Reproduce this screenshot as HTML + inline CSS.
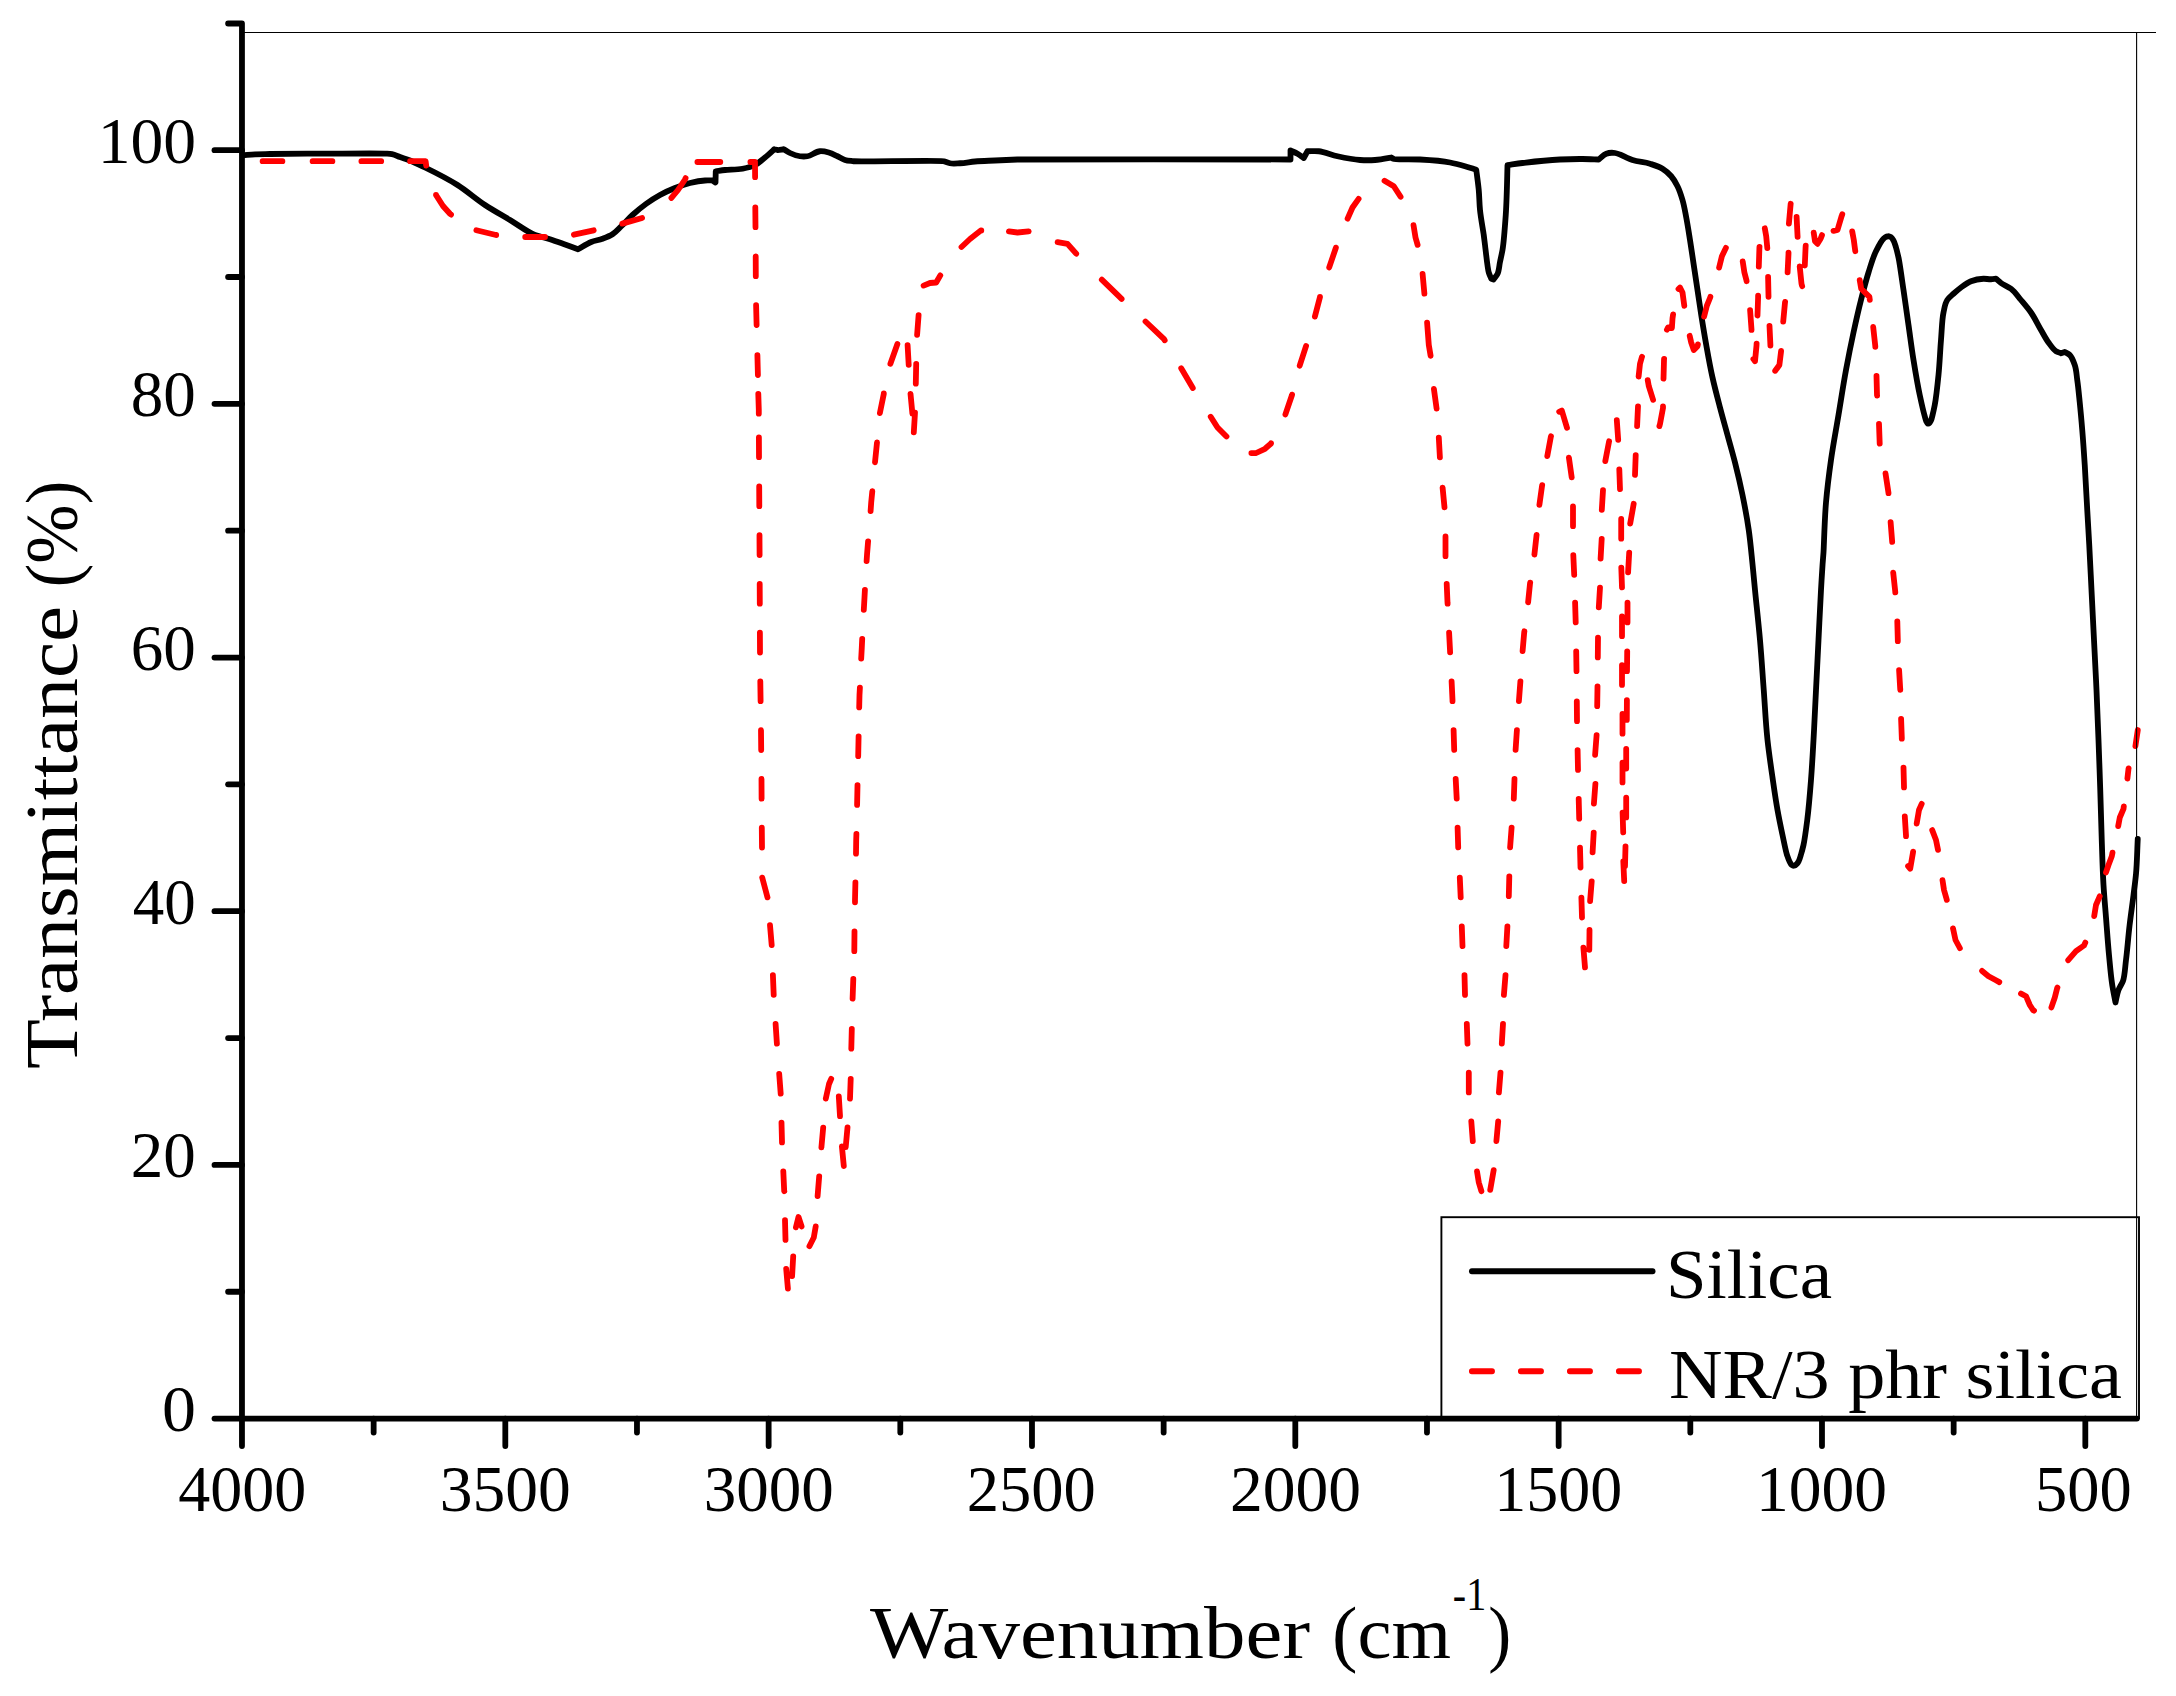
<!DOCTYPE html>
<html lang="en">
<head>
<meta charset="utf-8">
<title>FTIR spectra: Silica and NR/3 phr silica</title>
<style>
html,body{margin:0;padding:0;background:#fff;}
body{width:2176px;height:1696px;overflow:hidden;}
svg{display:block;}
</style>
</head>
<body>
<svg width="2176" height="1696" viewBox="0 0 2176 1696">
<rect x="0" y="0" width="2176" height="1696" fill="#ffffff"/>
<g stroke="#000" stroke-width="1.1" fill="none"><line x1="244" y1="32.45" x2="2156" y2="32.45"/></g>
<path d="M243.00 155.30 C247.00 154.97 250.99 154.52 255.00 154.30 C259.99 154.02 265.00 154.09 270.00 154.00 C277.50 153.87 310.00 153.66 330.00 153.60 C348.33 153.54 381.50 153.33 385.00 153.60 C387.34 153.78 389.70 153.74 392.00 154.20 C394.77 154.76 397.33 156.07 400.00 157.00 C403.33 158.17 406.71 159.20 410.00 160.50 C414.93 162.44 420.04 165.08 425.00 167.50 C432.44 171.13 447.10 178.42 457.50 185.00 C467.08 191.06 475.53 198.78 485.00 205.00 C493.12 210.34 501.67 215.00 510.00 220.00 C518.33 225.00 527.73 232.20 535.00 235.00 C539.85 236.87 545.04 237.68 550.00 239.25 C555.05 240.85 560.01 242.71 565.00 244.50 C569.34 246.06 573.67 247.67 578.00 249.25 C582.42 246.83 586.57 243.85 591.25 242.00 C594.88 240.56 598.84 240.10 602.50 238.75 C605.93 237.48 609.43 236.24 612.50 234.25 C615.82 232.10 618.38 228.97 621.25 226.25 C625.09 222.60 628.58 218.57 632.50 215.00 C636.88 211.01 641.44 207.21 646.25 203.75 C650.66 200.58 655.24 197.61 660.00 195.00 C664.84 192.34 669.87 190.04 675.00 188.00 C679.90 186.06 684.88 184.26 690.00 183.00 C694.92 181.79 701.26 180.70 705.00 180.50 C707.50 180.36 710.70 180.50 712.50 180.50 L715.50 182.50 L715.75 171.25 C718.83 170.83 721.91 170.35 725.00 170.00 C729.64 169.48 736.77 169.90 742.50 168.75 C746.77 167.90 751.12 166.98 755.00 165.00 C758.71 163.11 761.78 160.14 765.00 157.50 C768.20 154.88 773.01 150.36 774.25 149.25 C775.33 149.50 776.39 149.88 777.50 150.00 C779.16 150.18 781.67 149.50 783.75 149.25 C785.83 150.50 787.81 151.95 790.00 153.00 C793.16 154.52 796.52 155.79 800.00 156.25 C802.48 156.58 805.02 156.59 807.50 156.25 C811.22 155.74 815.59 151.53 820.00 151.25 C822.94 151.06 825.91 151.72 828.75 152.50 C831.81 153.34 834.62 154.91 837.50 156.25 C840.03 157.43 842.34 159.16 845.00 160.00 C847.81 160.89 850.83 160.87 853.75 161.25 C858.13 161.82 940.60 160.32 943.75 161.25 C945.85 161.87 947.85 162.84 950.00 163.25 C953.22 163.86 956.67 163.40 960.00 163.25 C964.99 163.02 969.99 161.94 975.00 161.50 C981.65 160.92 988.33 160.82 995.00 160.50 C1002.50 160.14 1010.00 159.81 1017.50 159.50 C1028.75 159.04 1286.00 159.50 1290.50 159.50 L1290.50 150.50 C1292.83 151.58 1295.26 152.48 1297.50 153.75 C1299.69 154.99 1301.67 156.58 1303.75 158.00 L1307.50 151.25 C1311.25 151.25 1315.02 150.89 1318.75 151.25 C1324.35 151.79 1331.18 154.86 1337.50 156.25 C1344.93 157.89 1352.52 159.51 1360.00 160.00 C1364.99 160.33 1370.01 160.36 1375.00 160.00 C1380.47 159.60 1389.81 157.72 1391.25 157.50 C1392.08 158.00 1392.89 158.54 1393.75 159.00 C1395.04 159.69 1411.26 159.01 1420.00 159.50 C1430.03 160.07 1442.42 161.00 1450.00 162.50 C1455.06 163.50 1460.04 164.84 1465.00 166.25 C1468.78 167.32 1472.50 168.58 1476.25 169.75 C1476.97 175.60 1478.12 183.23 1478.75 190.00 C1479.37 196.65 1479.33 203.35 1480.00 210.00 C1480.85 218.38 1483.09 230.00 1483.75 235.00 C1484.19 238.33 1484.57 241.67 1485.00 245.00 C1485.64 250.00 1487.65 269.32 1488.75 272.50 C1489.48 274.62 1490.81 277.65 1491.25 278.75 L1493.50 279.50 C1494.20 278.54 1496.46 276.01 1497.50 274.00 C1499.07 270.98 1499.17 266.00 1500.00 262.00 C1500.83 258.00 1501.78 254.02 1502.50 250.00 C1503.57 243.97 1504.94 226.69 1505.75 215.00 C1506.90 198.36 1507.24 172.56 1507.50 165.00 C1512.50 164.33 1517.49 163.61 1522.50 163.00 C1530.01 162.08 1548.76 160.05 1560.00 159.50 C1567.49 159.13 1575.00 158.94 1582.50 159.00 C1587.92 159.05 1594.03 159.35 1598.75 159.50 C1601.25 157.58 1603.30 154.86 1606.25 153.75 C1608.99 152.72 1612.42 152.61 1615.00 153.00 C1616.72 153.26 1618.35 153.94 1620.00 154.50 C1622.47 155.33 1628.19 158.54 1632.50 160.00 C1638.15 161.91 1644.31 161.94 1650.00 163.75 C1654.28 165.11 1658.69 166.38 1662.50 168.75 C1665.76 170.78 1668.74 173.34 1671.25 176.25 C1673.82 179.23 1675.74 182.74 1677.50 186.25 C1679.69 190.61 1681.12 195.32 1682.50 200.00 C1684.19 205.72 1685.12 211.64 1686.25 217.50 C1687.69 224.97 1688.81 232.49 1690.00 240.00 C1691.32 248.32 1692.50 256.67 1693.75 265.00 C1695.00 273.33 1696.25 281.67 1697.50 290.00 C1698.75 298.33 1699.94 306.68 1701.25 315.00 C1702.83 325.01 1704.46 335.02 1706.25 345.00 C1708.19 355.86 1710.11 366.73 1712.50 377.50 C1714.73 387.56 1717.39 397.53 1720.00 407.50 C1722.41 416.69 1725.00 425.83 1727.50 435.00 C1730.00 444.17 1732.67 453.29 1735.00 462.50 C1737.73 473.28 1740.26 484.11 1742.50 495.00 C1744.88 506.61 1747.07 518.27 1748.75 530.00 C1750.37 541.29 1751.34 552.66 1752.50 564.00 C1753.39 572.66 1754.16 581.33 1755.00 590.00 C1756.27 603.00 1758.54 623.31 1760.00 640.00 C1761.46 656.65 1762.50 673.33 1763.75 690.00 C1765.00 706.67 1765.70 723.38 1767.50 740.00 C1768.86 752.54 1770.70 765.02 1772.50 777.50 C1774.07 788.35 1775.56 799.21 1777.50 810.00 C1779.00 818.36 1780.72 826.69 1782.50 835.00 C1783.93 841.68 1785.87 851.71 1787.00 855.00 C1787.75 857.20 1788.61 859.79 1789.50 861.50 C1790.10 862.64 1790.70 864.15 1791.50 864.80 C1792.03 865.23 1792.70 865.47 1793.30 865.80 C1793.93 865.63 1794.61 865.59 1795.20 865.30 C1795.90 864.96 1796.47 864.37 1797.00 863.80 C1797.76 862.99 1798.28 861.98 1798.80 861.00 C1799.59 859.53 1800.33 856.69 1801.00 854.50 C1801.96 851.37 1802.76 848.19 1803.50 845.00 C1804.61 840.21 1806.18 828.36 1807.25 820.00 C1808.86 807.46 1809.96 793.35 1811.00 780.00 C1812.04 766.68 1812.74 753.34 1813.50 740.00 C1814.45 723.34 1815.17 706.67 1816.00 690.00 C1816.83 673.33 1817.67 656.67 1818.50 640.00 C1819.33 623.33 1820.25 603.00 1821.00 590.00 C1821.50 581.33 1822.18 569.75 1822.60 564.00 C1822.88 560.17 1823.22 556.33 1823.50 552.50 C1823.92 546.75 1824.56 519.13 1826.00 502.50 C1827.23 488.29 1829.00 474.12 1831.00 460.00 C1833.13 444.94 1836.00 430.00 1838.50 415.00 C1841.00 400.00 1843.24 384.95 1846.00 370.00 C1848.32 357.46 1850.80 344.96 1853.50 332.50 C1855.85 321.63 1858.27 310.78 1861.00 300.00 C1863.33 290.79 1865.63 281.56 1868.50 272.50 C1870.77 265.34 1872.75 257.78 1876.00 251.25 C1878.16 246.90 1882.32 239.76 1883.50 238.75 C1884.29 238.08 1885.06 237.34 1886.00 236.90 C1886.78 236.53 1887.67 236.43 1888.50 236.20 C1889.33 236.53 1890.26 236.70 1891.00 237.20 C1892.12 237.95 1892.79 239.32 1893.50 240.50 C1894.56 242.28 1895.26 245.13 1896.00 247.50 C1897.02 250.78 1897.74 254.15 1898.50 257.50 C1899.64 262.53 1901.89 279.16 1903.50 290.00 C1905.23 301.66 1906.83 313.33 1908.50 325.00 C1910.17 336.67 1911.63 348.36 1913.50 360.00 C1915.38 371.70 1917.47 384.33 1919.75 395.00 C1921.27 402.12 1924.01 413.72 1924.75 416.25 C1925.24 417.94 1925.66 420.08 1926.30 421.30 C1926.72 422.11 1927.38 422.96 1927.80 423.60 L1929.30 423.30 C1929.70 422.65 1930.52 421.48 1931.00 420.50 C1931.72 419.03 1932.25 416.18 1932.80 414.00 C1933.55 411.02 1934.16 408.01 1934.75 405.00 C1935.63 400.48 1937.50 385.03 1938.50 375.00 C1939.67 363.36 1940.04 351.66 1941.00 340.00 C1941.76 330.83 1942.03 318.86 1943.50 312.50 C1944.48 308.26 1944.84 303.62 1947.25 300.00 C1948.88 297.55 1951.33 295.74 1953.50 293.75 C1955.90 291.55 1958.38 289.43 1961.00 287.50 C1964.17 285.17 1967.36 282.73 1971.00 281.25 C1974.94 279.65 1979.74 278.87 1983.50 278.75 C1986.00 278.67 1988.50 279.33 1991.00 279.25 C1992.67 279.19 1994.33 278.92 1996.00 278.75 C1997.67 280.17 1999.24 281.70 2001.00 283.00 C2003.64 284.96 2007.97 286.39 2011.00 288.75 C2014.96 291.83 2017.76 296.17 2021.00 300.00 C2024.44 304.08 2027.96 308.11 2031.00 312.50 C2034.83 318.02 2037.59 324.21 2041.00 330.00 C2043.46 334.19 2045.62 338.59 2048.50 342.50 C2050.78 345.59 2053.68 349.88 2056.00 351.25 C2057.55 352.16 2059.33 352.58 2061.00 353.25 L2064.75 352.00 C2066.42 353.00 2068.30 353.70 2069.75 355.00 C2071.92 356.95 2073.52 361.48 2074.75 365.00 C2076.43 369.78 2076.53 374.98 2077.25 380.00 C2078.33 387.47 2078.98 394.99 2079.75 402.50 C2080.68 411.66 2081.49 420.83 2082.25 430.00 C2083.21 441.66 2084.00 453.33 2084.75 465.00 C2085.72 479.99 2086.40 495.00 2087.25 510.00 C2087.91 521.67 2088.62 533.33 2089.25 545.00 C2090.06 560.00 2090.75 575.00 2091.50 590.00 C2092.33 606.67 2093.17 623.33 2094.00 640.00 C2094.83 656.67 2095.75 673.33 2096.50 690.00 C2097.25 706.66 2097.87 723.33 2098.50 740.00 C2099.12 756.67 2099.71 773.33 2100.25 790.00 C2100.79 806.67 2101.17 823.34 2101.75 840.00 C2102.27 855.00 2102.59 870.02 2103.50 885.00 C2104.16 895.85 2105.15 906.67 2106.00 917.50 C2106.98 930.00 2107.81 942.52 2109.00 955.00 C2109.96 965.01 2110.87 976.21 2112.25 985.00 C2113.17 990.86 2114.42 996.67 2115.50 1002.50 C2116.50 998.33 2116.98 994.00 2118.50 990.00 C2119.69 986.87 2121.82 984.14 2123.00 981.00 C2124.78 976.29 2125.11 967.01 2126.00 960.00 C2127.34 949.48 2128.18 937.32 2129.50 926.00 C2130.71 915.65 2132.23 905.34 2133.50 895.00 C2134.36 888.00 2135.35 881.02 2136.00 874.00 C2136.98 863.47 2137.17 850.67 2137.75 839.00" fill="none" stroke="#000" stroke-width="5.8" stroke-linejoin="round" stroke-linecap="round"/>
<path d="M262.6 161.2 L282.4 161.2 M312.6 161.2 L332.4 161.2 M361.4 161.2 L381.2 161.2 M410.1 161.2 L425.6 161.2 L426.2 165.6 M436.0 194.9 L436.0 195.0 L443.0 206.0 L450.0 213.8 L451.0 214.6 M476.4 230.3 L496.0 235.0 L496.2 235.0 M525.2 237.0 L545.0 237.0 M573.9 234.7 L593.7 230.3 M622.3 223.6 L642.1 218.0 M671.4 197.9 L678.0 190.0 L685.0 179.5 L685.6 178.1 M697.4 162.0 L720.3 162.0 M750.4 162.0 L755.0 162.0 L755.1 177.2 M755.3 207.4 L755.5 227.2 M755.7 256.4 L755.8 276.2 M756.1 305.2 L756.6 325.0 M757.4 355.2 L757.9 375.0 M758.3 393.9 L758.8 410.0 L758.8 413.7 M758.9 437.4 L759.0 457.2 M759.2 486.4 L759.3 506.2 M759.5 535.2 L759.5 540.0 L759.6 555.0 M759.7 583.9 L759.8 603.7 M759.9 632.7 L760.0 652.5 M760.3 681.4 L760.6 701.2 M761.0 730.2 L761.2 750.0 M761.5 778.9 L761.6 798.7 M761.8 827.7 L762.0 847.5 M762.2 877.6 L767.5 897.4 M770.0 925.2 L771.7 945.0 M772.9 975.1 L773.7 994.9 M775.6 1023.9 L776.9 1043.7 M779.2 1073.9 L780.7 1093.7 M781.5 1122.6 L782.0 1142.0 L782.0 1142.4 M783.3 1171.4 L784.2 1191.0 L784.3 1191.2 M785.0 1220.1 L785.5 1239.9 M786.2 1268.8 L787.9 1288.6 M792.1 1276.1 L793.2 1256.3 M795.9 1227.4 L798.5 1217.0 L801.6 1226.4 M809.4 1246.2 L813.8 1237.5 L815.7 1226.4 M817.6 1196.1 L819.2 1176.3 M821.4 1147.4 L823.2 1127.6 M825.8 1098.6 L829.0 1084.0 L831.2 1078.8 M838.8 1096.4 L840.0 1116.0 L840.0 1116.2 M841.9 1146.4 L843.8 1166.0 L843.8 1165.8 M845.7 1147.2 L847.5 1127.4 M850.0 1098.6 L850.7 1078.8 M851.3 1048.6 L851.8 1028.8 M852.6 998.6 L853.3 978.8 M854.3 951.1 L854.5 931.3 M855.0 902.3 L855.0 900.0 L855.4 882.5 M856.0 853.6 L856.2 840.0 L856.4 833.8 M857.1 804.9 L857.5 785.1 M858.2 756.1 L858.6 736.3 M859.2 707.4 L859.5 695.0 L859.9 687.6 M861.2 658.6 L861.8 647.5 L862.2 638.8 M863.8 609.8 L864.5 597.5 L864.9 590.0 M866.6 561.1 L867.0 555.0 L868.1 541.3 M870.6 511.0 L871.2 502.5 L872.3 491.2 M875.0 462.3 L877.0 442.5 M879.9 413.1 L880.0 412.5 L883.8 393.8 L883.8 393.3 M890.4 363.8 L897.4 344.0 M907.6 345.1 L908.7 364.9 M910.5 393.8 L912.4 413.6 M913.8 432.4 L915.0 412.6 M915.8 383.6 L916.2 363.8 M917.1 334.9 L918.6 315.1 M923.6 285.6 L930.0 283.0 L936.2 282.5 L940.3 275.4 M961.5 247.0 L970.0 239.0 L980.8 230.5 L981.3 230.5 M1008.9 231.4 L1017.5 232.5 L1028.7 231.4 M1057.6 242.2 L1067.5 243.8 L1076.2 253.7 M1101.8 279.7 L1118.8 296.2 L1121.6 298.9 M1145.5 321.5 L1163.8 338.8 L1164.7 340.3 M1181.2 368.2 L1192.5 387.5 L1192.8 388.0 M1210.7 416.7 L1217.5 427.5 L1226.2 436.2 L1226.5 436.5 M1251.4 453.2 L1256.2 453.0 L1265.0 448.8 L1270.8 443.8 L1271.0 443.3 M1285.4 414.4 L1292.0 395.0 L1292.1 394.6 M1299.7 365.7 L1306.1 345.9 M1314.9 316.6 L1320.0 297.0 L1320.0 296.8 M1329.2 267.4 L1335.8 248.0 L1335.9 247.6 M1347.6 218.7 L1352.5 207.5 L1358.6 198.9 M1384.5 180.7 L1393.8 186.2 L1400.6 196.8 M1413.5 225.1 L1415.5 237.5 L1417.6 244.9 M1422.6 273.9 L1424.4 293.7 M1427.1 322.6 L1428.8 345.0 L1430.6 355.8 M1433.9 388.9 L1436.6 408.7 M1438.8 437.6 L1439.9 457.4 M1442.6 487.6 L1444.5 507.4 M1445.5 536.4 L1445.5 556.0 L1445.5 556.2 M1446.7 583.9 L1447.5 602.5 L1447.6 603.7 M1449.1 632.6 L1450.0 650.0 L1450.1 652.4 M1451.6 681.4 L1452.5 700.0 L1452.5 701.2 M1453.6 730.1 L1454.2 749.9 M1455.7 778.9 L1456.7 798.7 M1457.6 827.6 L1458.2 847.4 M1459.8 877.6 L1460.7 897.4 M1461.8 926.4 L1462.5 946.2 M1464.5 975.1 L1465.0 994.9 M1466.8 1023.9 L1467.5 1043.7 M1468.8 1072.6 L1468.8 1092.4 M1471.3 1121.4 L1472.8 1141.2 M1477.0 1171.4 L1478.8 1182.5 L1481.4 1191.2 M1490.2 1189.9 L1493.7 1170.1 M1496.4 1141.1 L1498.2 1121.3 M1498.9 1092.4 L1500.5 1072.6 M1501.8 1043.6 L1503.0 1023.8 M1503.9 994.9 L1505.5 975.1 M1506.3 946.1 L1507.4 926.3 M1508.8 896.1 L1509.3 876.3 M1510.1 847.4 L1511.6 827.6 M1513.8 798.6 L1514.5 778.8 M1515.6 749.9 L1516.9 730.1 M1518.9 701.1 L1520.4 681.3 M1522.6 651.1 L1524.2 632.5 L1524.4 631.3 M1528.1 602.4 L1530.0 583.8 L1530.2 582.6 M1534.4 554.6 L1536.6 534.8 M1539.4 504.9 L1542.0 486.2 L1542.2 485.1 M1547.3 456.1 L1550.8 437.0 L1551.0 436.3 M1559.2 411.8 L1561.8 410.5 L1567.0 427.8 M1568.9 457.6 L1571.7 477.4 M1573.0 506.4 L1573.0 526.2 M1573.3 555.1 L1574.2 574.9 M1575.1 602.6 L1575.7 622.4 M1576.2 651.4 L1576.5 671.2 M1576.8 701.4 L1577.0 721.2 M1577.6 750.1 L1578.0 769.9 M1578.7 798.9 L1579.2 818.7 M1580.0 847.7 L1580.5 867.5 M1581.4 897.7 L1582.0 917.5 M1583.4 947.6 L1585.0 967.4 M1589.3 949.8 L1589.5 931.2 L1589.5 930.0 M1590.1 901.1 L1591.7 881.3 M1592.6 852.4 L1593.7 832.6 M1593.9 803.6 L1595.4 783.8 M1595.1 754.9 L1596.6 735.1 M1597.2 706.1 L1597.5 686.3 M1597.8 657.4 L1598.0 637.6 M1598.8 607.4 L1600.0 587.6 M1600.6 558.6 L1601.7 538.8 M1601.8 509.9 L1603.0 490.1 M1605.3 461.1 L1609.1 441.3 M1616.8 420.1 L1618.2 439.9 M1619.3 469.4 L1620.0 489.2 M1621.2 518.9 L1621.2 538.7 M1621.3 567.6 L1622.0 587.4 M1622.0 616.4 L1622.0 636.2 M1622.0 665.1 L1622.0 684.9 M1622.5 713.9 L1622.5 733.7 M1622.5 762.6 L1622.5 782.4 M1622.6 812.6 L1623.2 832.4 M1623.3 861.4 L1624.2 881.2 M1625.0 866.1 L1625.5 846.3 M1626.2 817.4 L1626.2 797.6 M1626.2 768.6 L1626.2 748.8 M1626.8 719.9 L1626.9 700.1 M1627.0 671.1 L1627.2 651.3 M1627.5 622.4 L1627.5 602.6 M1628.1 572.4 L1629.2 552.6 M1630.2 523.6 L1633.7 503.8 M1635.0 474.9 L1635.7 455.1 M1637.1 426.1 L1638.0 406.3 M1638.6 376.6 L1640.0 363.8 L1641.9 357.0 L1642.0 356.8 M1647.7 380.1 L1648.8 386.2 L1653.0 399.5 L1653.1 399.9 M1659.4 426.1 L1660.0 424.0 L1663.0 408.0 L1663.0 406.3 M1663.5 378.6 L1664.0 360.0 L1664.1 358.8 M1666.9 329.7 L1668.0 327.5 L1671.9 328.0 L1672.5 318.5 L1673.1 314.3 M1678.5 289.0 L1680.0 287.5 L1682.5 292.5 L1684.3 305.8 M1689.7 335.8 L1691.2 342.5 L1693.8 350.0 L1697.5 346.2 L1697.9 344.4 M1704.1 316.6 L1706.9 305.6 L1710.2 297.5 L1710.4 296.8 M1719.1 267.6 L1721.9 256.2 L1725.6 248.5 L1725.9 247.8 M1742.7 261.4 L1744.4 272.5 L1746.5 280.6 L1746.6 281.2 M1750.1 310.1 L1751.5 329.4 L1751.5 329.9 M1753.4 359.1 L1755.0 361.2 L1756.5 345.6 L1756.6 343.6 M1757.5 315.5 L1758.1 297.5 L1758.1 295.7 M1758.8 266.6 L1759.4 248.0 L1759.5 246.8 M1764.8 228.3 L1766.2 236.2 L1767.2 246.9 L1767.3 248.1 M1768.1 277.0 L1768.5 295.6 L1768.5 296.8 M1769.5 325.8 L1770.4 345.0 L1770.4 345.6 M1775.2 370.8 L1779.4 365.0 L1781.0 351.9 L1781.1 351.0 M1783.2 321.7 L1785.0 302.5 L1785.1 301.9 M1787.6 272.4 L1788.5 253.8 L1788.5 252.6 M1788.9 223.6 L1790.6 204.4 L1790.7 203.8 M1796.6 217.0 L1797.5 235.0 L1797.6 236.8 M1799.7 266.4 L1801.5 283.8 L1802.2 286.2 M1804.8 265.5 L1805.6 246.9 L1805.7 245.7 M1813.7 232.6 L1815.0 241.2 L1817.5 243.8 L1820.6 238.8 L1822.0 235.1 M1833.5 230.9 L1837.5 230.0 L1841.6 216.2 L1842.3 214.2 M1852.2 231.4 L1853.8 240.0 L1855.2 250.6 L1855.3 251.2 M1859.7 280.1 L1861.2 288.8 L1869.4 296.9 L1869.8 299.9 M1873.2 327.0 L1875.3 346.2 L1875.3 346.8 M1876.5 375.9 L1877.0 395.0 L1877.1 395.7 M1879.0 423.9 L1879.7 443.7 M1885.5 473.4 L1888.5 493.0 L1888.5 493.2 M1890.6 522.1 L1892.2 541.9 M1893.2 572.6 L1895.2 591.2 L1895.3 592.4 M1897.3 621.4 L1897.8 640.0 L1897.8 641.2 M1899.1 670.1 L1900.2 688.8 L1900.3 689.9 M1901.1 718.9 L1901.8 737.5 L1901.8 738.7 M1903.5 767.6 L1904.0 787.0 L1904.0 787.4 M1904.8 816.4 L1906.0 835.5 L1906.0 836.2 M1908.1 866.1 L1910.2 868.8 L1913.0 852.5 L1913.1 851.6 M1916.7 823.6 L1919.0 810.0 L1921.7 803.8 M1932.2 830.1 L1936.0 840.0 L1938.0 849.9 M1942.5 880.1 L1944.0 890.0 L1946.5 898.8 L1946.8 899.9 M1953.0 928.4 L1955.5 940.0 L1959.8 948.0 L1959.9 948.2 M1982.1 970.9 L1988.5 976.2 L1995.5 980.0 L1999.3 982.1 M2021.0 993.6 L2026.0 996.2 L2029.8 1005.0 L2033.0 1010.0 L2034.0 1010.7 M2051.4 1007.4 L2054.8 997.5 L2057.2 988.0 L2057.4 987.6 M2068.2 960.2 L2076.0 951.2 L2084.0 945.5 L2085.3 942.6 M2094.2 916.1 L2096.0 905.0 L2099.7 896.3 M2106.0 872.4 L2108.5 865.0 L2111.8 856.2 L2112.5 852.6 M2118.2 826.1 L2119.8 817.5 L2123.5 808.8 L2123.8 806.3 M2127.4 778.6 L2128.5 768.8 L2128.6 768.4 M2135.4 746.1 L2137.8 730.0" fill="none" stroke="#ff0000" stroke-width="5.8" stroke-linejoin="round" stroke-linecap="round"/>
<rect x="1441.4" y="1217.2" width="697.6" height="201" fill="#fff" stroke="#000" stroke-width="1.9"/>
<line x1="2136.6" y1="32.5" x2="2136.6" y2="1418" stroke="#000" stroke-width="1.1"/>
<line x1="1471.9" y1="1271.25" x2="1652.6" y2="1271.25" stroke="#000" stroke-width="5.8" stroke-linecap="round"/>
<path d="M1471.85 1371.25 h20.2 M1520.85 1371.25 h20.2 M1569.85 1371.25 h20.2 M1618.85 1371.25 h20.2" fill="none" stroke="#f00" stroke-width="5.8" stroke-linecap="round"/>
<g stroke="#000" stroke-width="5.8" stroke-linecap="round" fill="none">
<path d="M228.1 23.5 L241.97 23.5 L241.97 1446" stroke-linejoin="round"/>
<line x1="214.5" y1="1418.57" x2="2136.9" y2="1418.57"/>
<line x1="214.5" y1="1164.89" x2="241.97" y2="1164.89"/>
<line x1="214.5" y1="911.21" x2="241.97" y2="911.21"/>
<line x1="214.5" y1="657.53" x2="241.97" y2="657.53"/>
<line x1="214.5" y1="403.85" x2="241.97" y2="403.85"/>
<line x1="214.5" y1="150.17" x2="241.97" y2="150.17"/>
<line x1="228.1" y1="1291.73" x2="241.97" y2="1291.73"/>
<line x1="228.1" y1="1038.05" x2="241.97" y2="1038.05"/>
<line x1="228.1" y1="784.37" x2="241.97" y2="784.37"/>
<line x1="228.1" y1="530.69" x2="241.97" y2="530.69"/>
<line x1="228.1" y1="277.01" x2="241.97" y2="277.01"/>
<line x1="505.31" y1="1418.57" x2="505.31" y2="1446"/>
<line x1="768.64" y1="1418.57" x2="768.64" y2="1446"/>
<line x1="1031.98" y1="1418.57" x2="1031.98" y2="1446"/>
<line x1="1295.31" y1="1418.57" x2="1295.31" y2="1446"/>
<line x1="1558.65" y1="1418.57" x2="1558.65" y2="1446"/>
<line x1="1821.98" y1="1418.57" x2="1821.98" y2="1446"/>
<line x1="2085.32" y1="1418.57" x2="2085.32" y2="1446"/>
<line x1="373.64" y1="1418.57" x2="373.64" y2="1432.5"/>
<line x1="636.97" y1="1418.57" x2="636.97" y2="1432.5"/>
<line x1="900.31" y1="1418.57" x2="900.31" y2="1432.5"/>
<line x1="1163.64" y1="1418.57" x2="1163.64" y2="1432.5"/>
<line x1="1426.98" y1="1418.57" x2="1426.98" y2="1432.5"/>
<line x1="1690.32" y1="1418.57" x2="1690.32" y2="1432.5"/>
<line x1="1953.65" y1="1418.57" x2="1953.65" y2="1432.5"/>
</g>
<g font-family="'Liberation Serif', serif" fill="#000">
<text x="162.00" y="1431.17" font-size="65.5" textLength="33.97" lengthAdjust="spacingAndGlyphs">0</text>
<text x="130.80" y="1177.49" font-size="65.5" textLength="65.07" lengthAdjust="spacingAndGlyphs">20</text>
<text x="132.80" y="923.81" font-size="65.5" textLength="62.92" lengthAdjust="spacingAndGlyphs">40</text>
<text x="130.80" y="670.13" font-size="65.5" textLength="65.07" lengthAdjust="spacingAndGlyphs">60</text>
<text x="130.80" y="416.45" font-size="65.5" textLength="65.05" lengthAdjust="spacingAndGlyphs">80</text>
<text x="97.75" y="162.77" font-size="65.5" textLength="98.40" lengthAdjust="spacingAndGlyphs">100</text>
<text x="178.25" y="1510.60" font-size="65.5" textLength="127.99" lengthAdjust="spacingAndGlyphs">4000</text>
<text x="439.64" y="1510.60" font-size="65.5" textLength="131.12" lengthAdjust="spacingAndGlyphs">3500</text>
<text x="703.82" y="1510.60" font-size="65.5" textLength="130.07" lengthAdjust="spacingAndGlyphs">3000</text>
<text x="966.81" y="1510.60" font-size="65.5" textLength="129.02" lengthAdjust="spacingAndGlyphs">2500</text>
<text x="1229.99" y="1510.60" font-size="65.5" textLength="131.12" lengthAdjust="spacingAndGlyphs">2000</text>
<text x="1494.18" y="1510.60" font-size="65.5" textLength="127.99" lengthAdjust="spacingAndGlyphs">1500</text>
<text x="1755.96" y="1510.60" font-size="65.5" textLength="131.17" lengthAdjust="spacingAndGlyphs">1000</text>
<text x="2035.00" y="1510.60" font-size="65.5" textLength="96.67" lengthAdjust="spacingAndGlyphs">500</text>
<text x="1666.00" y="1298.25" font-size="69" textLength="166.10" lengthAdjust="spacingAndGlyphs">Silica</text>
<text x="1669.00" y="1398.25" font-size="69" textLength="453.01" lengthAdjust="spacingAndGlyphs">NR/3 phr silica</text>
<text x="870.00" y="1658.20" font-size="75" textLength="440.00" lengthAdjust="spacingAndGlyphs">Wavenumber</text>
<text x="1332.00" y="1658.20" font-size="75" textLength="119.04" lengthAdjust="spacingAndGlyphs">(cm</text>
<text x="1452.80" y="1610.25" font-size="45.5" textLength="33.38" lengthAdjust="spacingAndGlyphs">-1</text>
<text x="1488.20" y="1658.20" font-size="75" textLength="22.93" lengthAdjust="spacingAndGlyphs">)</text>
<text transform="translate(77.40 1069.00) rotate(-90)" font-size="75" textLength="463.23" lengthAdjust="spacingAndGlyphs">Transmittance</text>
<text transform="translate(77.40 587.40) rotate(-90)" font-size="75" textLength="106.77" lengthAdjust="spacingAndGlyphs">(%)</text>
</g>
</svg>
</body>
</html>
